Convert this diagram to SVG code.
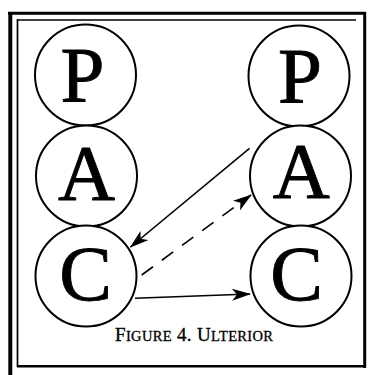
<svg xmlns="http://www.w3.org/2000/svg" width="373" height="375" viewBox="0 0 373 375">
<style>
.frame{stroke:#000;fill:none}
.ego circle{fill:#fff;stroke:#000;stroke-width:2}
.ego text{font-family:"Liberation Serif","Times New Roman",serif;font-size:79px;fill:#000;stroke:#000;stroke-width:0.9;text-anchor:middle}
.conn line{stroke:#000;stroke-width:1.6;fill:none}
.cap{font-family:"Liberation Serif","Times New Roman",serif;fill:#000;stroke:#000;stroke-width:0.3}
</style>
<defs>
<marker id="ah" viewBox="0 0 19 12" refX="18" refY="6" markerWidth="19" markerHeight="12" markerUnits="userSpaceOnUse" orient="auto">
<path d="M0,0 L19,6 L0,12 L5,6 Z" fill="#000"/>
</marker>
</defs>
<rect width="373" height="375" fill="#fff"/>
<g id="frame">
<line class="frame" x1="8" y1="13.3" x2="366" y2="13.3" stroke-width="3"/>
<line class="frame" x1="10.3" y1="12" x2="10.3" y2="375" stroke-width="4"/>
<line class="frame" x1="364.7" y1="12" x2="364.7" y2="368" stroke-width="3"/>
<line class="frame" x1="17" y1="366.3" x2="366" y2="366.3" stroke-width="2.5"/>
<line class="frame" x1="17" y1="20" x2="356" y2="20" stroke-width="1.6"/>
<line class="frame" x1="17.5" y1="19" x2="17.5" y2="367" stroke-width="1.7"/>
</g>
<g id="left-P" class="ego"><circle cx="85.5" cy="75" r="50.5"/><text x="82.5" y="100.5">P</text></g>
<g id="left-A" class="ego"><circle cx="86.5" cy="176" r="50.5"/><text x="86.5" y="199">A</text></g>
<g id="left-C" class="ego"><circle cx="86" cy="276" r="50.5"/><text x="85.5" y="299.5">C</text></g>
<g id="right-P" class="ego"><circle cx="299" cy="76" r="50.5"/><text x="300" y="101.5">P</text></g>
<g id="right-A" class="ego"><circle cx="300.5" cy="176" r="50.5"/><text x="301.3" y="196.5">A</text></g>
<g id="right-C" class="ego"><circle cx="301" cy="276" r="50.5"/><text x="296.5" y="299.5">C</text></g>
<g id="connectors" class="conn">
<line x1="249.5" y1="148.3" x2="130.5" y2="247" marker-end="url(#ah)"/>
<line x1="141.7" y1="275" x2="251" y2="195" stroke-dasharray="14 11" marker-end="url(#ah)"/>
<line x1="135" y1="298.3" x2="250" y2="294" marker-end="url(#ah)"/>
</g>
<text class="cap" x="115" y="340.7" textLength="158" lengthAdjust="spacing"><tspan font-size="19">F</tspan><tspan font-size="14.5">IGURE</tspan><tspan font-size="19"> 4. U</tspan><tspan font-size="14.5">LTERIOR</tspan></text>
</svg>
